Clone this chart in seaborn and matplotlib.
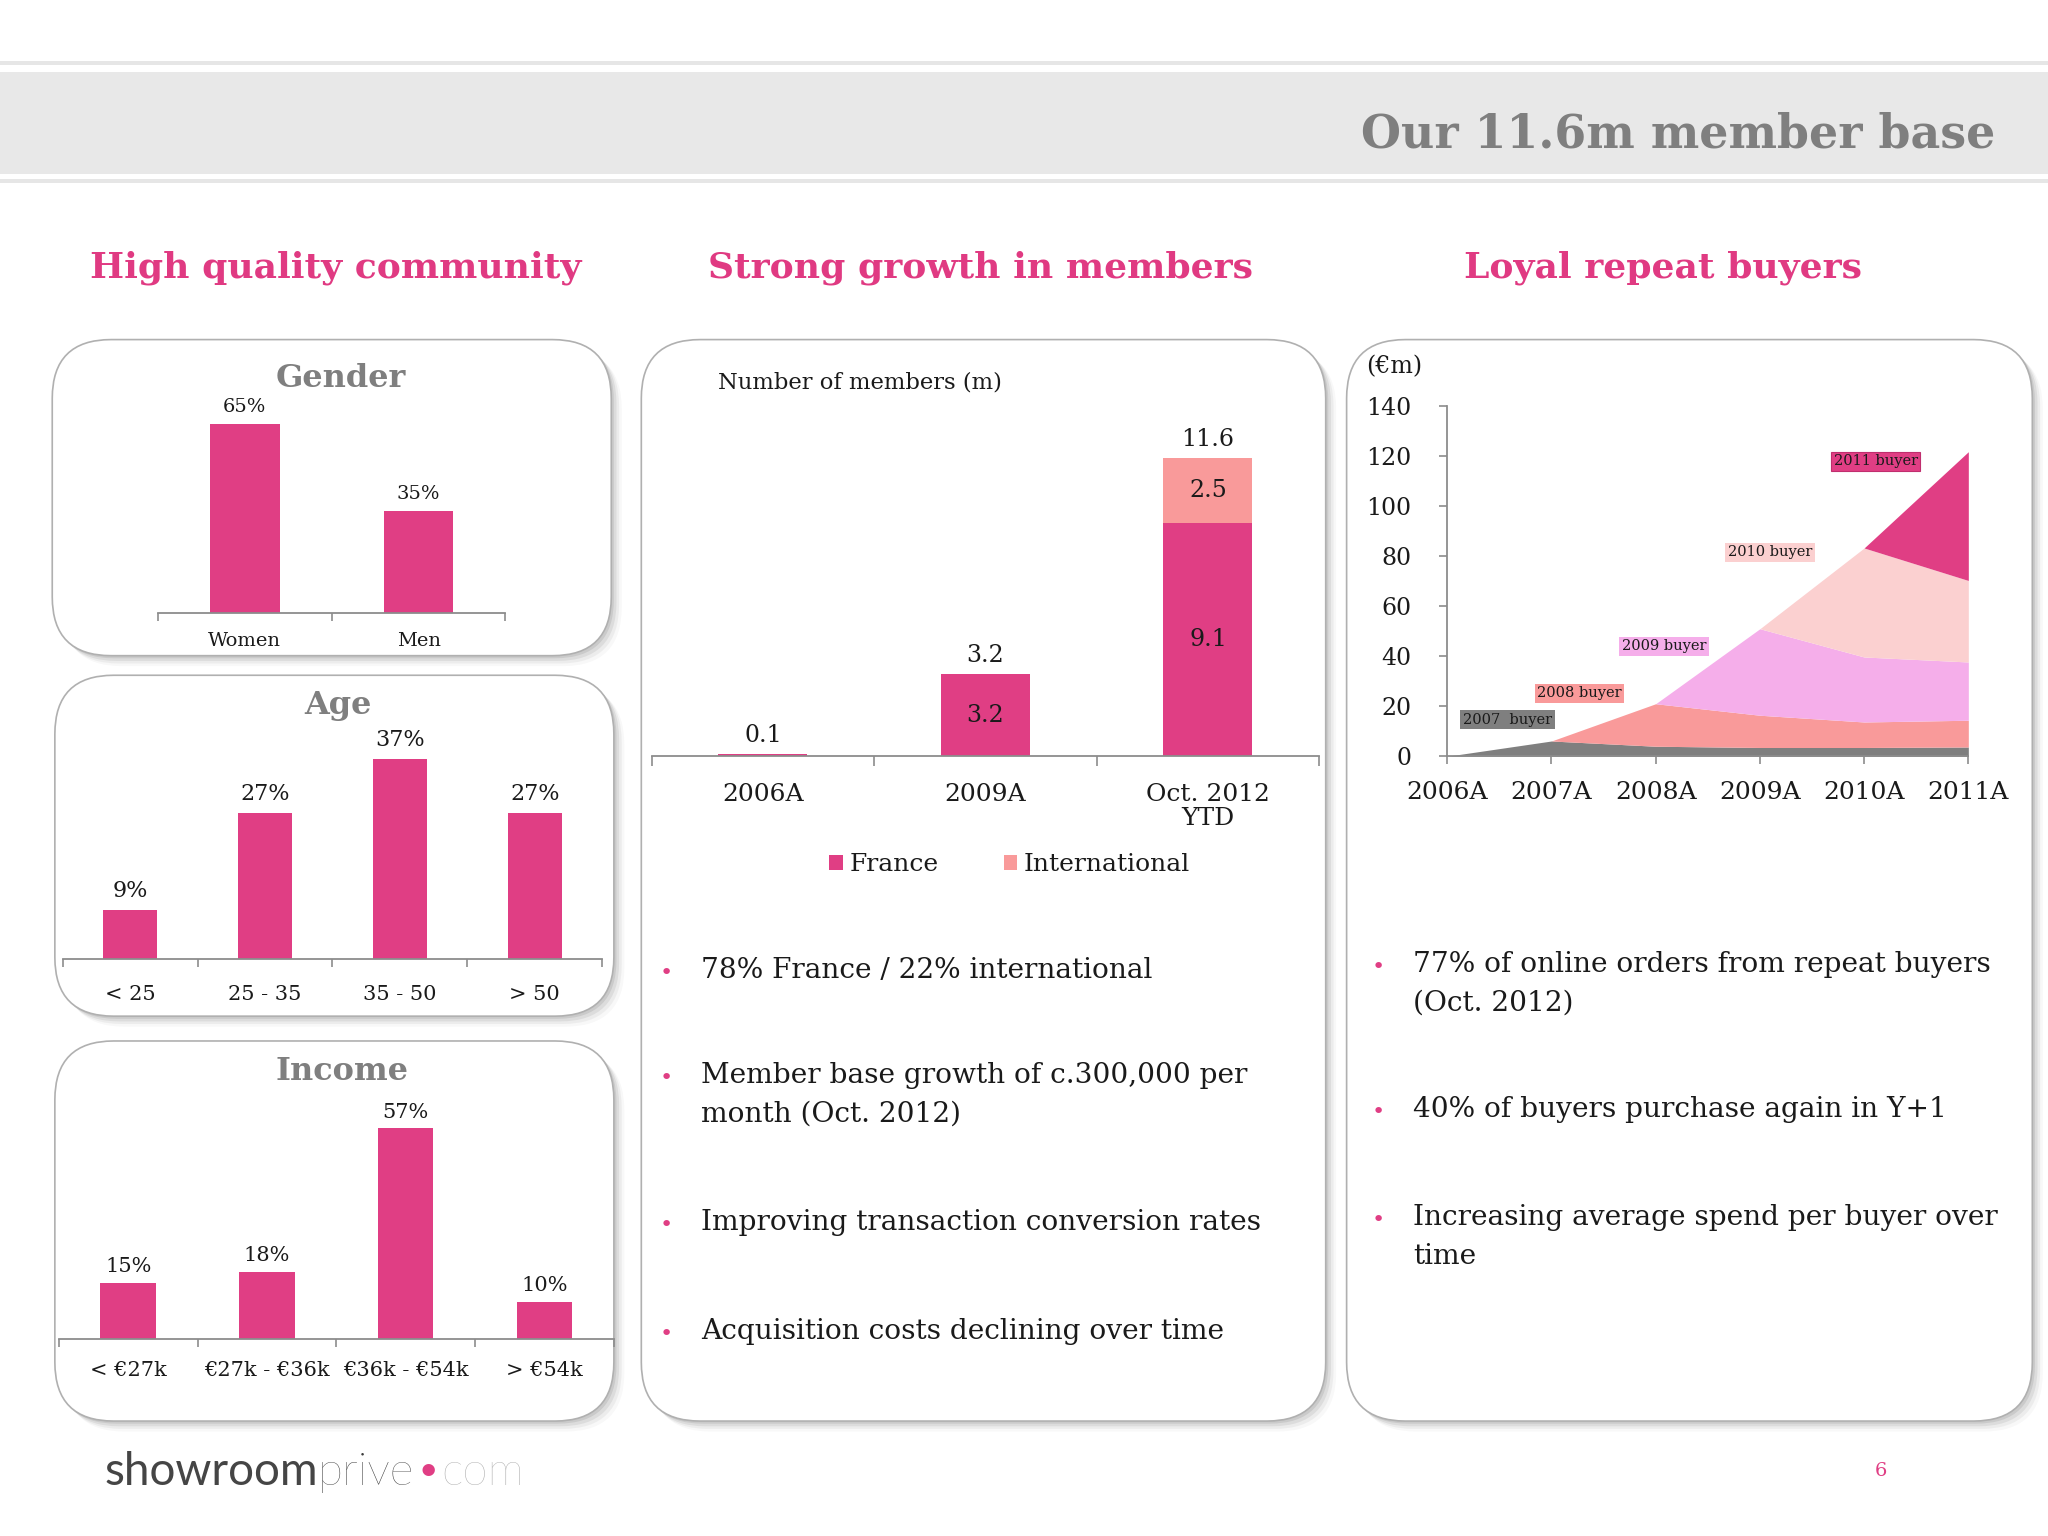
import numpy as np
import matplotlib
matplotlib.use("Agg")
import matplotlib.pyplot as plt
from matplotlib.patches import FancyBboxPatch, Rectangle, Patch
import seaborn as sns

# ---------------- data ----------------
gender_cats = ["Women", "Men"]
gender_vals = [65, 35]

age_cats = ["< 25", "25 - 35", "35 - 50", "> 50"]
age_vals = [9, 27, 37, 27]

income_cats = ["< €27k", "€27k - €36k", "€36k - €54k", "> €54k"]
income_vals = [15, 18, 57, 10]

member_cats = ["2006A", "2009A", "Oct. 2012\nYTD"]
member_france = [0.1, 3.2, 9.1]
member_intl = [0.0, 0.0, 2.5]
member_total = [0.1, 3.2, 11.6]

buyer_years = ["2006A", "2007A", "2008A", "2009A", "2010A", "2011A"]
buyer_2007 = [0.0, 6.1, 4.0, 3.5, 3.5, 3.7]
buyer_2008 = [0.0, 0.0, 17.0, 12.9, 10.2, 10.7]
buyer_2009 = [0.0, 0.0, 0.0, 34.6, 26.0, 23.3]
buyer_2010 = [0.0, 0.0, 0.0, 0.0, 43.6, 32.6]
buyer_2011 = [0.0, 0.0, 0.0, 0.0, 0.0, 51.5]
buyer_names = ["2007  buyer", "2008 buyer", "2009 buyer", "2010 buyer", "2011 buyer"]

middle_bullets = [["78% France / 22% international"],
                  ["Member base growth of c.300,000 per", "month (Oct. 2012)"],
                  ["Improving transaction conversion rates"],
                  ["Acquisition costs declining over time"]]
right_bullets = [["77% of online orders from repeat buyers", "(Oct. 2012)"],
                 ["40% of buyers purchase again in Y+1"],
                 ["Increasing average spend per buyer over", "time"]]

# ---------------- style ----------------
PINK = "#E03E84"
INTL = "#F99A9A"
HEAD_PINK = "#E03A82"
GRAY_TXT = "#7F7F7F"
TXT = "#1A1A1A"
AXC = "#8C8C8C"
LAYER_COLORS = ["#7F7F7F", "#F99A9A", "#F5AEEA", "#FBD0D0", "#E03E84"]

sns.set_theme(style="white")
plt.rcParams["font.family"] = ["DejaVu Serif", "DejaVu Sans"]
plt.rcParams["text.color"] = TXT
plt.rcParams["xtick.color"] = AXC
plt.rcParams["ytick.color"] = AXC
plt.rcParams["xtick.labelcolor"] = TXT
plt.rcParams["ytick.labelcolor"] = TXT

W, H = 1568, 1176
fig = plt.figure(figsize=(20.48, 15.36), dpi=100)
fig.patch.set_facecolor("white")
bg = fig.add_axes([0, 0, 1, 1], zorder=0)
bg.set_xlim(0, W)
bg.set_ylim(H, 0)
bg.axis("off")


def rect(l, t, r, b):
    return [l / W, 1 - b / H, (r - l) / W, (b - t) / H]


# header band
bg.add_patch(Rectangle((0, 47), W, 3, fc="#E6E6E6", ec="none"))
bg.add_patch(Rectangle((0, 55), W, 78, fc="#E8E8E8", ec="none"))
bg.add_patch(Rectangle((0, 137), W, 3, fc="#E6E6E6", ec="none"))
bg.text(1528, 103, "Our 11.6m member base", ha="right", va="center",
        fontsize=33, fontweight="bold", color=GRAY_TXT)

# section headings
for x, s in [(257, "High quality community"), (751, "Strong growth in members"),
             (1273, "Loyal repeat buyers")]:
    bg.text(x, 205, s, ha="center", va="center", fontsize=26,
            fontweight="bold", color=HEAD_PINK)


def panel(l, t, r, b, rad=45):
    for off, a in [(8, 0.06), (6, 0.10), (4, 0.16), (2, 0.22)]:
        bg.add_patch(FancyBboxPatch((l + off, t + off), r - l, b - t,
                                    boxstyle=f"round,pad=0,rounding_size={rad}",
                                    fc="#8a8a8a", ec="none", alpha=a))
    bg.add_patch(FancyBboxPatch((l, t), r - l, b - t,
                                boxstyle=f"round,pad=0,rounding_size={rad}",
                                fc="white", ec="#B0B0B0", lw=1.2))


panel(40, 260, 468, 502)
panel(42, 517, 470, 778)
panel(42, 797, 470, 1088)
panel(491, 260, 1015, 1088)
panel(1031, 260, 1556, 1088)

# panel titles
for x, y, s in [(261, 290, "Gender"), (259, 540, "Age"), (262, 820, "Income")]:
    bg.text(x, y, s, ha="center", va="center", fontsize=23,
            fontweight="bold", color=GRAY_TXT)


def simple_bars(box, cats, vals, ymax, val_fs, tick_fs, tick_pad, val_pad):
    ax = fig.add_axes(rect(*box), zorder=2)
    ax.patch.set_alpha(0)
    sns.barplot(x=cats, y=vals, color=PINK, saturation=1, width=0.4,
                linewidth=0, errorbar=None, ax=ax)
    n = len(cats)
    ax.set_xlim(-0.5, n - 0.5)
    ax.set_ylim(0, ymax)
    sns.despine(ax=ax, left=True)
    ax.spines["bottom"].set_color(AXC)
    ax.spines["bottom"].set_linewidth(1.3)
    ax.set_yticks([])
    ax.set_xticks(range(n))
    ax.set_xticklabels(cats, fontsize=tick_fs)
    ax.set_xticks(np.arange(-0.5, n, 1), minor=True)
    ax.tick_params(axis="x", which="major", length=0, pad=tick_pad, bottom=True)
    ax.tick_params(axis="x", which="minor", length=6, width=1.2, color=AXC,
                   direction="out", bottom=True)
    ax.set_xlabel("")
    ax.set_ylabel("")
    ax.bar_label(ax.containers[0], labels=[f"{v}%" for v in vals],
                 padding=val_pad, fontsize=val_fs, color=TXT)
    return ax


simple_bars((121, 290, 387, 469), gender_cats, gender_vals, 80.8, 14, 14, 14, 6)
simple_bars((48, 560, 461, 734), age_cats, age_vals, 42.1, 16, 15, 19, 6)
simple_bars((45, 840, 470, 1025), income_cats, income_vals, 65.5, 15, 15, 16, 5)

# ---------------- middle stacked bars ----------------
axm = fig.add_axes(rect(499, 320, 1010, 579), zorder=2)
axm.patch.set_alpha(0)
sns.barplot(x=member_cats, y=member_total, color=INTL, saturation=1, width=0.4,
            linewidth=0, errorbar=None, ax=axm)
sns.barplot(x=member_cats, y=member_france, color=PINK, saturation=1, width=0.4,
            linewidth=0, errorbar=None, ax=axm)
axm.set_xlim(-0.5, 2.5)
axm.set_ylim(0, 13.17)
sns.despine(ax=axm, left=True)
axm.spines["bottom"].set_color(AXC)
axm.spines["bottom"].set_linewidth(1.3)
axm.set_yticks([])
axm.set_xticks(range(3))
axm.set_xticklabels(member_cats, fontsize=18)
for t in axm.get_xticklabels():
    t.set_linespacing(1.05)
axm.set_xticks(np.arange(-0.5, 3, 1), minor=True)
axm.tick_params(axis="x", which="major", length=0, pad=19, bottom=True)
axm.tick_params(axis="x", which="minor", length=7, width=1.2, color=AXC,
                direction="out", bottom=True)
axm.set_xlabel("")
axm.set_ylabel("")
axm.bar_label(axm.containers[0], labels=[f"{v:.1f}" for v in member_total],
              padding=5, fontsize=17, color=TXT)
axm.bar_label(axm.containers[1],
              labels=["" if v < 1 else f"{v:.1f}" for v in member_france],
              label_type="center", fontsize=17, color=TXT)
for i, (f, it) in enumerate(zip(member_france, member_intl)):
    if it > 0:
        axm.text(i, f + it / 2, f"{it:.1f}", ha="center", va="center",
                 fontsize=17, color=TXT)
bg.text(550, 293, "Number of members (m)", ha="left", va="center", fontsize=16.3)
axm.legend(handles=[Patch(fc=PINK, ec="none", label="France"),
                    Patch(fc=INTL, ec="none", label="International")],
           loc="center", bbox_to_anchor=(773 / W, 1 - 662 / H),
           bbox_transform=fig.transFigure, ncol=2, frameon=False, fontsize=18,
           handlelength=0.55, handleheight=0.55, handletextpad=0.25,
           columnspacing=2.6)

# ---------------- right stacked area ----------------
axr = fig.add_axes(rect(1108, 311, 1507, 579), zorder=2)
axr.patch.set_alpha(0)
xs = np.arange(len(buyer_years))
axr.stackplot(xs, buyer_2007, buyer_2008, buyer_2009, buyer_2010, buyer_2011,
              colors=LAYER_COLORS, linewidth=0)
axr.set_xlim(0, len(buyer_years) - 1)
axr.set_ylim(0, 140)
sns.despine(ax=axr)
for sp in ["left", "bottom"]:
    axr.spines[sp].set_color(AXC)
    axr.spines[sp].set_linewidth(1.3)
axr.set_yticks(range(0, 141, 20))
axr.set_yticklabels([str(v) for v in range(0, 141, 20)], fontsize=17)
axr.set_xticks(xs)
axr.set_xticklabels(buyer_years, fontsize=18)
axr.tick_params(axis="y", length=6, width=1.2, color=AXC, direction="out",
                left=True, pad=20)
axr.tick_params(axis="x", length=6, width=1.2, color=AXC, direction="out",
                bottom=True, pad=12)
axr.grid(False)
label_pos = [(0.58, 14.6), (1.27, 25.1), (2.08, 43.9), (3.10, 81.5), (4.11, 118.0)]
for (lx, ly), name, col in zip(label_pos, buyer_names, LAYER_COLORS):
    axr.text(lx, ly, name, ha="center", va="center", fontsize=10.5, color=TXT,
             bbox=dict(boxstyle="square,pad=0.18", fc=col,
                       ec="#C02E6E" if col == PINK else "none", lw=0.8))
bg.text(1046, 281, "(€m)", ha="left", va="center", fontsize=17)

# ---------------- bullets ----------------
def bullets(x_dot, x_txt, items, ys, fs=20.2, lsp=30):
    for lines, y in zip(items, ys):
        bg.text(x_dot, y + 4, "•", ha="center", va="center", fontsize=16,
                color=PINK, family=["DejaVu Sans"])
        for k, line in enumerate(lines):
            bg.text(x_txt, y + k * lsp, line, ha="left", va="center_baseline",
                    fontsize=fs, color=TXT)


bullets(510, 537, middle_bullets, [741, 821, 934, 1017])
bullets(1055, 1082, right_bullets, [736, 847, 930])

# ---------------- footer ----------------
fig.canvas.draw()
renderer = fig.canvas.get_renderer()
x0 = 80
pieces = [("showroom", "#454545", "normal", 33), ("prive", "#3A3A3A", "light", 33),
          ("•", PINK, "normal", 24), ("com", "#A8A8A8", "light", 33)]
inv = bg.transData.inverted()
for s, c, wgt, fsz in pieces:
    t = bg.text(x0, 1124, s, ha="left", va="center_baseline", fontsize=fsz,
                color=c, family=["Lato", "DejaVu Sans"], fontweight=wgt)
    bb = t.get_window_extent(renderer)
    x1 = inv.transform((bb.x1, bb.y0))[0]
    x0 = x1 + (3 if s in ("prive", "•") else 0)
bg.text(1440, 1126, "6", ha="center", va="center", fontsize=14, color=PINK)

fig.savefig("out.png", dpi=100, facecolor="white")
